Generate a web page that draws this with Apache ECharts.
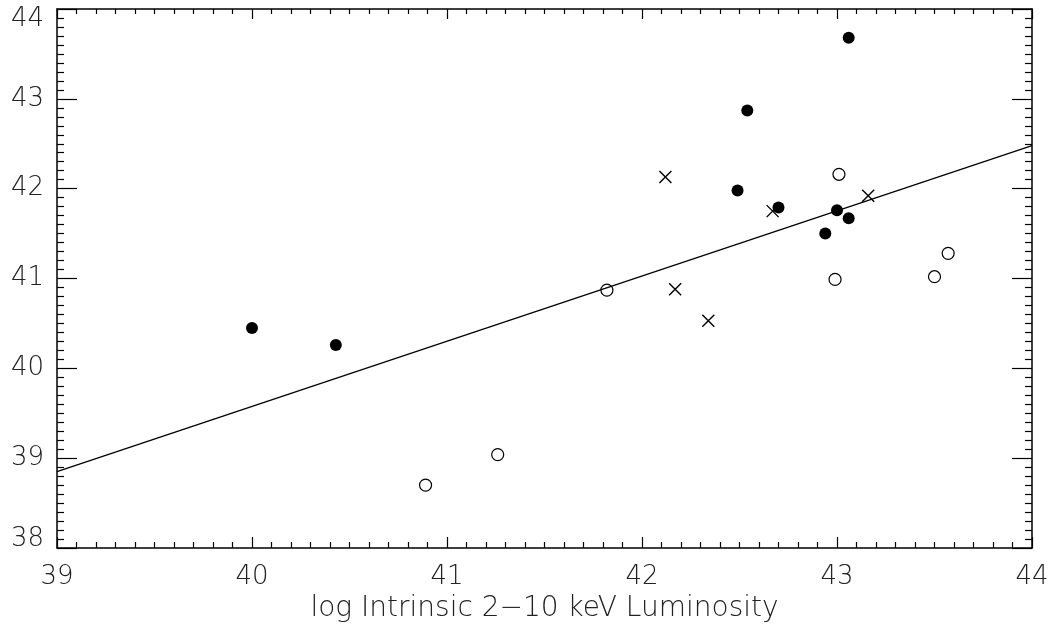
<!DOCTYPE html>
<html>
<head>
<meta charset="utf-8">
<script src="https://cdn.jsdelivr.net/npm/echarts@6/dist/echarts.min.js"></script>
<style>html,body{margin:0;padding:0;background:#fff}#c{width:1053px;height:638px}</style>
</head>
<body>
<div id="c"></div>
<script>
const filledX = [40.00, 40.43, 43.06, 42.54, 42.49, 42.70, 43.00, 43.06, 42.94];
const filledY = [40.45, 40.26, 43.68, 42.87, 41.98, 41.79, 41.76, 41.67, 41.50];
const openX = [41.82, 41.26, 40.89, 43.01, 42.99, 43.50, 43.57];
const openY = [40.87, 39.04, 38.70, 42.16, 40.99, 41.02, 41.28];
const crossX = [42.12, 42.17, 42.34, 42.67, 43.16];
const crossY = [42.13, 40.88, 40.53, 41.75, 41.92];
const fitX = [39, 44];
const fitY = [38.85, 42.48];
const xTicks = [39, 40, 41, 42, 43, 44];
const yTicks = [38, 39, 40, 41, 42, 43, 44];
const xTitle = 'log Intrinsic 2\u221210 keV Luminosity';

const zip = (a, b) => a.map((v, i) => [v, b[i]]);
const font = "'DejaVu Sans', sans-serif";
const ink = '#000';
const yMin = yTicks[0], yMax = yTicks[yTicks.length - 1];

function xAx(pos, show) {
  return {
    type: 'value', position: pos, min: xTicks[0], max: xTicks[xTicks.length - 1], interval: 1,
    axisLine: { show: true, onZero: false, lineStyle: { color: ink, width: 1.5 } },
    axisTick: { show: true, inside: true, length: pos === 'bottom' ? 11 : 10, lineStyle: { color: ink, width: 1.2 } },
    minorTick: { show: true, splitNumber: 10, length: pos === 'bottom' ? 6 : 5, lineStyle: { color: ink, width: 1.2 } },
    splitLine: { show: false },
    axisLabel: { show: show, fontFamily: font, fontSize: 26, fontWeight: 200, color: '#222', margin: 16 },
    name: show ? xTitle : '', nameLocation: 'middle', nameGap: 33,
    nameTextStyle: { fontFamily: font, fontSize: 28, fontWeight: 200, color: '#222' }
  };
}
function yAx(pos, show) {
  const base = { fontFamily: font, fontSize: 26, fontWeight: 200, color: '#222' };
  return {
    type: 'value', position: pos, min: yMin, max: yMax, interval: 1,
    axisLine: { show: true, onZero: false, lineStyle: { color: ink, width: 1.5 } },
    axisTick: { show: true, inside: true, length: 20, lineStyle: { color: ink, width: 1.2 } },
    minorTick: { show: true, splitNumber: 10, length: 7, lineStyle: { color: ink, width: 1.2 } },
    splitLine: { show: false },
    axisLabel: Object.assign({
      show: show, margin: 13,
      formatter: v => v === yMax ? '{hi|' + v + '}' : (v === yMin ? '{lo|' + v + '}' : '{n|' + v + '}'),
      rich: {
        hi: Object.assign({ padding: [20, 0, 0, 0] }, base),
        lo: Object.assign({ padding: [0, 0, 18, 0] }, base),
        n: Object.assign({}, base)
      }
    }, base)
  };
}

const chart = echarts.init(document.getElementById('c'), null, { renderer: 'canvas' });
chart.setOption({
  backgroundColor: '#fff',
  animation: false,
  grid: { left: 57, right: 21, top: 9, bottom: 90, containLabel: false },
  xAxis: [xAx('bottom', true), xAx('top', false)],
  yAxis: [yAx('left', true), yAx('right', false)],
  series: [
    {
      type: 'line', data: zip(fitX, fitY), showSymbol: false, symbol: 'none',
      lineStyle: { color: ink, width: 1.3 }, z: 2
    },
    {
      type: 'scatter', data: zip(filledX, filledY), symbol: 'circle', symbolSize: 12,
      itemStyle: { color: '#000', opacity: 1 }, z: 3
    },
    {
      type: 'scatter', data: zip(openX, openY), symbol: 'circle', symbolSize: 12,
      itemStyle: { color: 'rgba(255,255,255,0)', borderColor: '#000', borderWidth: 1.2, opacity: 1 }, z: 3
    },
    {
      type: 'scatter', data: zip(crossX, crossY), symbol: 'path://M0,0L10,10M10,0L0,10', symbolSize: 12,
      itemStyle: { color: 'none', borderColor: '#000', borderWidth: 1.4, opacity: 1 }, z: 3
    }
  ]
});
</script>
</body>
</html>
